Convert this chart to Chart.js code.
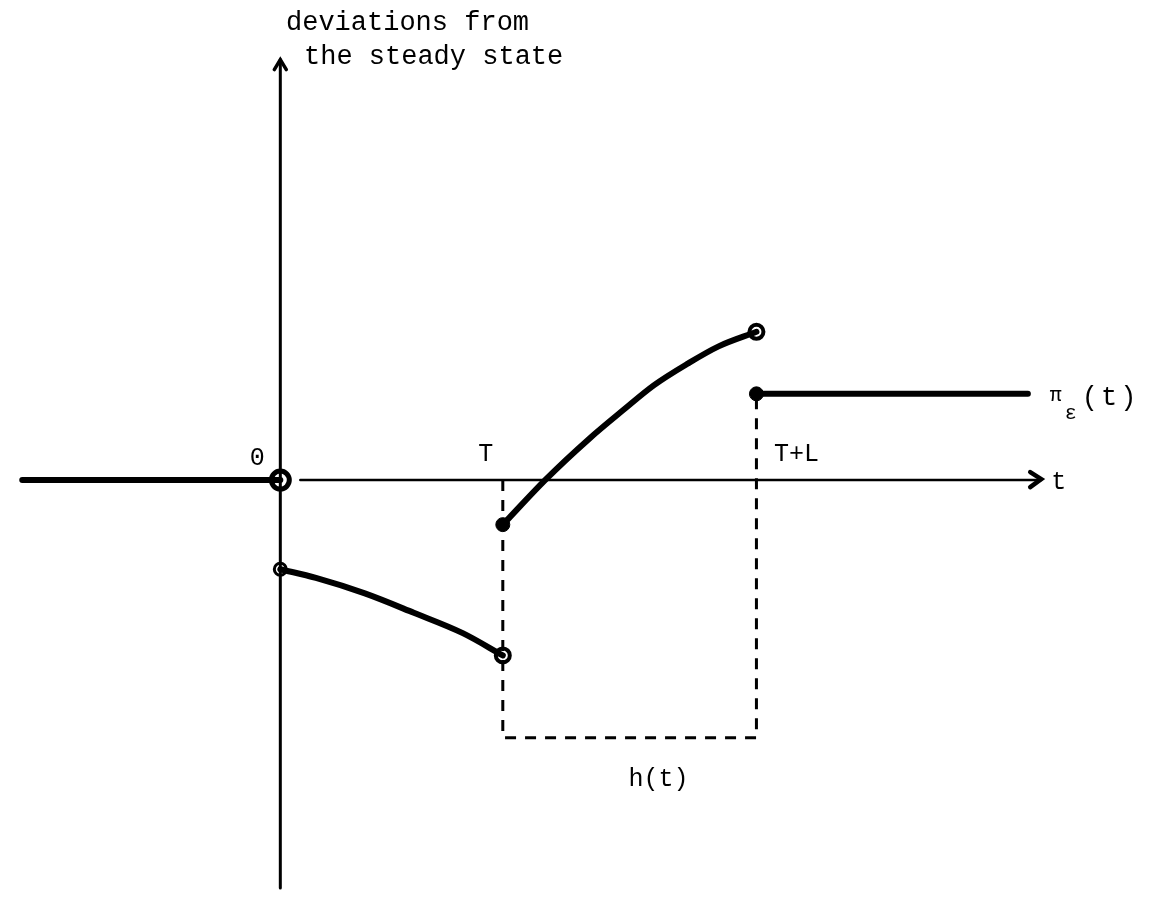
<!DOCTYPE html>
<html lang="en">
<head>
    <meta charset="UTF-8">
    <title>Deviations from the steady state</title>
    <script src="https://cdn.jsdelivr.net/npm/chart.js@4.4.3/dist/chart.umd.min.js"></script>
    <style>
        * {
            margin: 0;
            padding: 0;
        }
        body {
            background: #fff;
            width: 1154px;
            height: 902px;
            overflow: hidden;
        }
    </style>
</head>
<body>
<canvas id="myChart" width="1154" height="902"></canvas>
<script>
    // time in units of T, deviations in arbitrary units
    const T = 1.0;
    const TL = 2.14;

    // before the shock
    const preX = [-1.16, 0];
    const preY = [0, 0];

    // first branch, 0..T
    const branch1X = [0, 0.16, 0.38, 0.60, 0.82, 1.0];
    const branch1Y = [-0.92, -1.01, -1.17, -1.37, -1.58, -1.81];

    // second branch, T..T+L
    const branch2X = [1.0, 1.19, 1.39, 1.54, 1.68, 1.83, 1.97, 2.14];
    const branch2Y = [-0.46, 0, 0.43, 0.72, 0.98, 1.20, 1.38, 1.53];

    // after T+L
    const postX = [2.14, 3.36];
    const postY = [0.89, 0.89];

    // h(t) box
    const hBottom = -2.66;
    const hBoxX = [T, T, TL, TL];
    const hBoxY = [0, hBottom, hBottom, 0.89];

    const openX = [0, 0, 1.0, 2.14];
    const openY = [0, -0.92, -1.81, 1.53];
    const openR = [9, 6, 7, 7];
    const dotX = [1.0, 2.14];
    const dotY = [-0.46, 0.89];

    const toPts = (xs, ys) => xs.map((x, i) => ({ x: x, y: ys[i] }));

    const FONT = '"Liberation Mono", "DejaVu Sans Mono", monospace';

    const axesPlugin = {
        id: 'axesPlugin',
        afterDraw(chart) {
            const { ctx, scales: { x, y } } = chart;
            const x0 = x.getPixelForValue(0);
            const y0 = y.getPixelForValue(0);
            ctx.save();
            ctx.strokeStyle = '#000';
            ctx.fillStyle = '#000';
            ctx.lineCap = 'round';

            // vertical axis
            const yTop = y.getPixelForValue(4.34);
            const yBot = y.getPixelForValue(-4.21);
            ctx.lineWidth = 3;
            ctx.beginPath();
            ctx.moveTo(x0, yBot);
            ctx.lineTo(x0, yTop);
            ctx.stroke();
            ctx.lineWidth = 3.5;
            ctx.beginPath();
            ctx.moveTo(x0 - 6, yTop + 10);
            ctx.lineTo(x0, yTop);
            ctx.lineTo(x0 + 6, yTop + 10);
            ctx.stroke();

            // horizontal axis
            const xs = x.getPixelForValue(0.09);
            const xe = x.getPixelForValue(3.42);
            ctx.lineWidth = 2.5;
            ctx.beginPath();
            ctx.moveTo(xs, y0);
            ctx.lineTo(xe, y0);
            ctx.stroke();
            ctx.lineWidth = 4.5;
            ctx.beginPath();
            ctx.moveTo(xe - 11, y0 - 8);
            ctx.lineTo(xe, y0 - 1);
            ctx.lineTo(xe - 11, y0 + 7);
            ctx.stroke();

            // labels
            ctx.textBaseline = 'middle';
            ctx.textAlign = 'left';
            ctx.font = '27px ' + FONT;
            ctx.fillText('deviations from', 286, 23);
            ctx.fillText('the steady state', 304, 57);

            ctx.font = '25px ' + FONT;
            ctx.textAlign = 'center';
            ctx.fillText('0', x0 - 23, y0 - 22);
            ctx.fillText('T', x.getPixelForValue(T) - 17, y0 - 26);
            ctx.fillText('T+L', x.getPixelForValue(TL) + 40, y0 - 26);
            ctx.fillText('h(t)', x.getPixelForValue(1.7), y.getPixelForValue(hBottom) + 42);
            ctx.textAlign = 'left';
            ctx.fillText('t', xe + 10, y0 + 2);

            const py = y.getPixelForValue(0.89);
            const px = x.getPixelForValue(3.36);
            ctx.font = '20px ' + FONT;
            ctx.fillText('\u03c0', px + 22, py + 2);
            ctx.fillText('\u03b5', px + 37, py + 20);
            ctx.font = '27px ' + FONT;
            ctx.letterSpacing = '3px';
            ctx.fillText('(t)', px + 54, py + 4);
            ctx.restore();
        }
    };

    const lineSet = (xs, ys, extra) => Object.assign({
        data: toPts(xs, ys),
        showLine: true,
        borderColor: '#000',
        borderWidth: 6,
        pointRadius: 0,
        fill: false,
        borderCapStyle: 'round',
        cubicInterpolationMode: 'monotone',
        tension: 0.4
    }, extra || {});

    new Chart(document.getElementById('myChart'), {
        type: 'scatter',
        data: {
            datasets: [
                lineSet(hBoxX, hBoxY, { borderWidth: 3, borderDash: [11, 9], tension: 0, cubicInterpolationMode: 'default', borderCapStyle: 'butt' }),
                lineSet(preX, preY, { tension: 0 }),
                lineSet(branch1X, branch1Y),
                lineSet(branch2X, branch2Y),
                lineSet(postX, postY, { tension: 0 }),
                {
                    data: toPts(dotX, dotY),
                    pointRadius: 7,
                    pointBackgroundColor: '#000',
                    pointBorderColor: '#000',
                    showLine: false
                },
                {
                    data: toPts(openX, openY),
                    pointRadius: openR,
                    pointBackgroundColor: '#fff',
                    pointBorderColor: '#000',
                    pointBorderWidth: [5, 3, 4, 4],
                    showLine: false
                }
            ]
        },
        options: {
            responsive: false,
            animation: false,
            events: [],
            layout: { padding: 0 },
            plugins: {
                legend: { display: false },
                tooltip: { enabled: false }
            },
            scales: {
                x: { type: 'linear', display: false, min: -1.197, max: 3.864 },
                y: { type: 'linear', display: false, min: -4.21, max: 4.81 }
            }
        },
        plugins: [axesPlugin]
    });
</script>
</body>
</html>
